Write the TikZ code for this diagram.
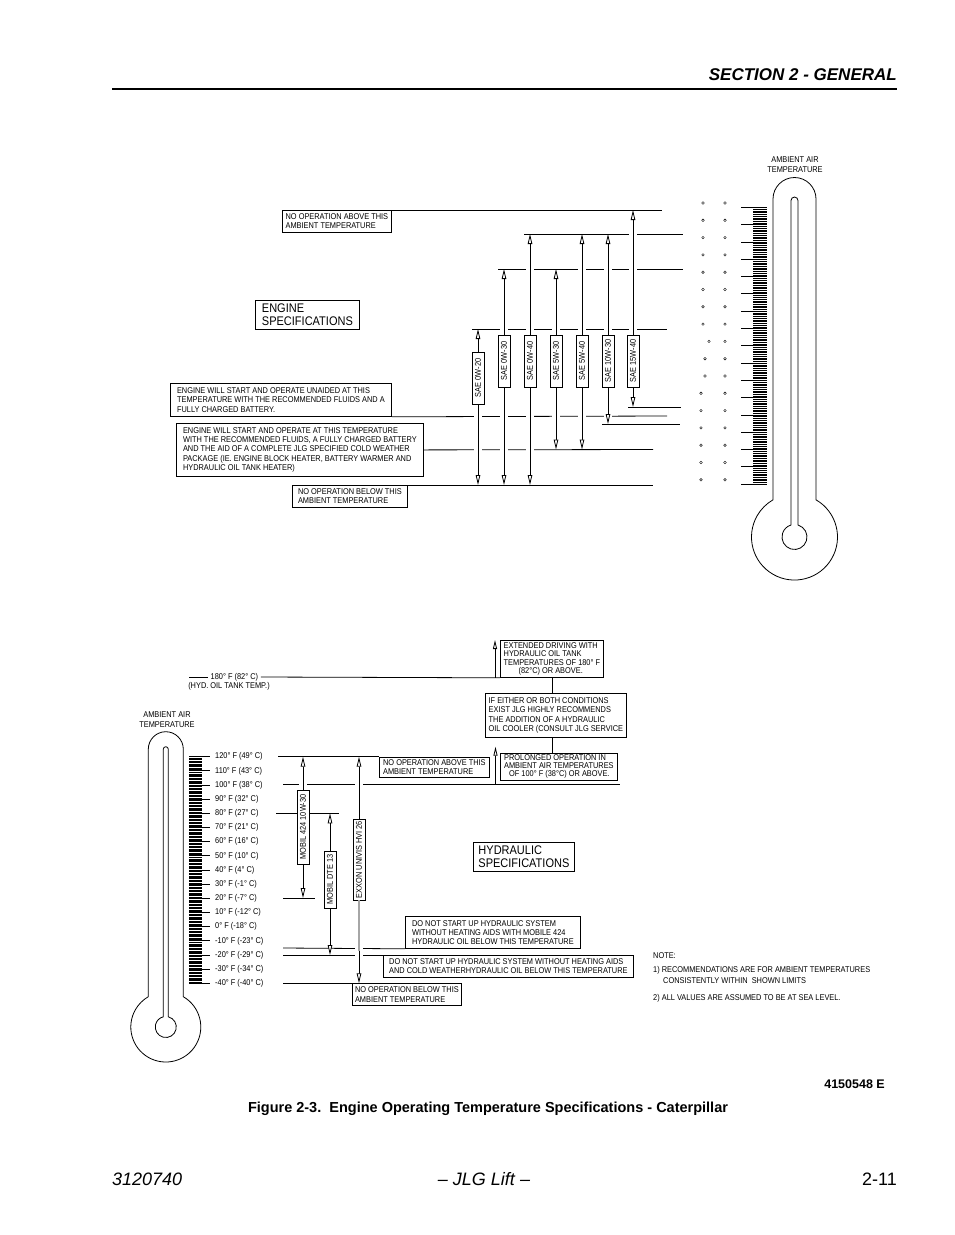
\documentclass[tikz,border=0pt]{standalone}
\usepackage{fontspec}
\setmainfont{Liberation Sans}
\newfontfamily\cond[FakeStretch=0.88]{Liberation Sans}
\usetikzlibrary{arrows.meta}
\newcommand\smalltxt{\cond\fontsize{8.4}{9.3}\selectfont}
\newcommand\tighttxt{\cond\fontsize{8.4}{8.4}\selectfont}
\newcommand\bigtxt{\cond\fontsize{12.5}{13}\selectfont}
\tikzset{
  lvl/.style={line width=0.8pt},
  tick/.style={line width=0.3pt},
  gapline/.style={draw=white, line width=8pt},
  limit/.style={line width=0.8pt, {Triangle[open, fill=white, length=10pt, width=4.5pt]}-{Triangle[open, fill=white, length=10pt, width=4.5pt]}},
  uparrow/.style={line width=0.8pt, -{Triangle[open, fill=white, length=9pt, width=4pt]}},
  notebox/.style={draw, fill=white, line width=0.8pt, font=\smalltxt, align=left, inner xsep=2.5pt, inner ysep=1pt, anchor=north west},
  oilbox/.style={draw, fill=white, line width=0.8pt, rotate=90, font=\smalltxt, inner sep=1pt, minimum height=12pt},
  specbox/.style={draw, line width=0.8pt, font=\bigtxt, align=left, anchor=north west, inner xsep=3pt},
  txt/.style={font=\smalltxt, inner sep=0pt},
}
\begin{document}
\begin{tikzpicture}[x=1pt, y=-1pt]
\useasboundingbox (0,0) rectangle (954,1235);

% page header
\node[anchor=base east, inner sep=0pt, font=\bfseries\itshape\fontsize{17}{20}\selectfont] (section) at (897,80) {SECTION 2 - GENERAL};
\draw[line width=1.5pt] (112,89) -- (897,89);

% engine thermometer
\node[txt, align=center] (eamb) at (795,164.5) {AMBIENT AIR\\TEMPERATURE};
\draw[line width=0.8pt] (773,499.8) -- (773,199) arc[start angle=180, end angle=0, radius=21.5pt] -- (816,499.8) arc[start angle=60, end angle=-240, radius=43pt] -- cycle;
\draw[line width=0.8pt] (791,525) -- (791,200.5) arc[start angle=180, end angle=0, radius=3.5pt] -- (798,525) arc[start angle=73.7, end angle=-253.7, radius=12.5pt] -- cycle;
\foreach \k in {0,...,16}
  \draw[lvl] (741,{207.3+17.3*\k}) -- (767,{207.3+17.3*\k});
\foreach \k in {0,...,15}
  \foreach \j in {1,...,9}
    \draw[tick] (753,{207.3+17.3*\k+1.73*\j}) -- (767,{207.3+17.3*\k+1.73*\j});
\foreach \k/\xl in {0/703,1/703,2/703,3/703,4/703,5/703,6/703,7/703,8/709,9/705,10/705,11/701,12/701,13/701,14/701,15/701,16/701}{
  \draw[line width=0.4pt] (\xl,{203+17.3*\k}) circle[radius=1.3pt];
  \draw[line width=0.4pt] (725,{203+17.3*\k}) circle[radius=1.3pt];
}

% engine boxes
\node[notebox, minimum width=109pt, minimum height=22pt] (noabove) at (282,210) {NO OPERATION ABOVE THIS\\AMBIENT TEMPERATURE};
\node[specbox, minimum width=104pt, minimum height=28pt] (enginespec) at (255,300) {ENGINE\\SPECIFICATIONS};
\node[notebox, minimum width=221pt, minimum height=33pt] (unaided) at (170,383) {ENGINE WILL START AND OPERATE UNAIDED AT THIS\\TEMPERATURE WITH THE RECOMMENDED FLUIDS AND A\\FULLY CHARGED BATTERY.};
\node[notebox, minimum width=247pt, minimum height=53pt] (aided) at (176,423) {ENGINE WILL START AND OPERATE AT THIS TEMPERATURE\\WITH THE RECOMMENDED FLUIDS, A FULLY CHARGED BATTERY\\AND THE AID OF A COMPLETE JLG SPECIFIED COLD WEATHER\\PACKAGE (IE. ENGINE BLOCK HEATER, BATTERY WARMER AND\\HYDRAULIC OIL TANK HEATER)};
\node[notebox, minimum width=115pt, minimum height=22pt] (nobelow) at (292,485) {NO OPERATION BELOW THIS\\AMBIENT TEMPERATURE};

% engine levels
\draw[lvl] (noabove.north east) -- (662,210);
\draw[lvl] (524,234) -- (683,234);
\draw[lvl] (498,269) -- (683,269);
\draw[lvl] (472,329) -- (667,329);
\draw[lvl] (628,407) -- (681,407);
\draw[lvl] (unaided.south east) -- (667,416);
\draw[lvl] (602,424) -- (680,424);
\draw[lvl] (aided.east) -- (653,449.5);
\draw[lvl] (nobelow.north east) -- (653,485);

% engine oil ranges
\draw[gapline] (478,341) -- (478,473);
\draw[gapline] (504,281) -- (504,473);
\draw[gapline] (530,246) -- (530,473);
\draw[gapline] (556,281) -- (556,437.5);
\draw[gapline] (582,246) -- (582,437.5);
\draw[gapline] (608,246) -- (608,417);
\draw[gapline] (633,222) -- (633,395);
\draw[limit] (478,329) -- (478,485);
\draw[limit] (504,269) -- (504,485);
\draw[limit] (530,234) -- (530,485);
\draw[limit] (556,269) -- (556,449.5);
\draw[limit] (582,234) -- (582,449.5);
\draw[limit] (608,234) -- (608,424);
\draw[limit] (633,210) -- (633,407);
\node[oilbox, minimum width=52pt] (sae0w20) at (478,378) {SAE 0W-20};
\node[oilbox, minimum width=52pt] (sae0w30) at (504,361) {SAE 0W-30};
\node[oilbox, minimum width=52pt] (sae0w40) at (530,361) {SAE 0W-40};
\node[oilbox, minimum width=52pt] (sae5w30) at (556,361) {SAE 5W-30};
\node[oilbox, minimum width=52pt] (sae5w40) at (582,361) {SAE 5W-40};
\node[oilbox, minimum width=52pt] (sae10w30) at (608,361) {SAE 10W-30};
\node[oilbox, minimum width=52pt] (sae15w40) at (633,361) {SAE 15W-40};

% hydraulic thermometer
\node[txt, align=center] (hamb) at (167,719.5) {AMBIENT AIR\\TEMPERATURE};
\draw[line width=0.8pt] (148.3,996.7) -- (148.3,749.2) arc[start angle=180, end angle=0, radius=17.5pt] -- (183.3,996.7) arc[start angle=60, end angle=-240, radius=35pt] -- cycle;
\draw[line width=0.8pt] (163.3,1016.8) -- (163.3,749.2) arc[start angle=180, end angle=0, radius=2.5pt] -- (168.3,1016.8) arc[start angle=76.2, end angle=-256.2, radius=10.5pt] -- cycle;
\foreach \k in {0,...,15}
  \foreach \j in {1,...,9}
    \draw[tick] (189.3,{756.7+14.167*\k+1.4167*\j}) -- (201.7,{756.7+14.167*\k+1.4167*\j});
\foreach \f/\c [count=\i from 0] in {120/49,110/43,100/38,90/32,80/27,70/21,60/16,50/10,40/4,30/-1,20/-7,10/-12,0/-18,-10/-23,-20/-29,-30/-34,-40/-40}{
  \draw[lvl] (189.3,{756.7+14.167*\i}) -- (210,{756.7+14.167*\i});
  \node[txt, anchor=west] (temp\i) at (215,{756.7+14.167*\i}) {\f° F (\c° C)};
}

% hydraulic boxes
\node[notebox, font=\tighttxt, minimum width=103pt, minimum height=37pt] (extended) at (500,640) {EXTENDED DRIVING WITH\\HYDRAULIC OIL TANK\\TEMPERATURES OF 180° F\\\hspace*{15pt}(82°C) OR ABOVE.};
\node[notebox, minimum width=141pt, minimum height=44pt] (either) at (485,693) {IF EITHER OR BOTH CONDITIONS\\EXIST JLG HIGHLY RECOMMENDS\\THE ADDITION OF A HYDRAULIC\\OIL COOLER (CONSULT JLG SERVICE};
\node[notebox, font=\tighttxt, minimum width=117pt, minimum height=27pt] (prolonged) at (500,752.5) {PROLONGED OPERATION IN\\AMBIENT AIR TEMPERATURES\\\hspace*{5pt}OF 100° F (38°C) OR ABOVE.};
\node[notebox, minimum width=110pt, minimum height=20.5pt] (hnoabove) at (379,756.7) {NO OPERATION ABOVE THIS\\AMBIENT TEMPERATURE};
\node[specbox, minimum width=101pt, minimum height=29pt] (hydspec) at (473,842) {HYDRAULIC\\SPECIFICATIONS};
\node[notebox, minimum width=175pt, minimum height=32pt] (dns1) at (405,916) {DO NOT START UP HYDRAULIC SYSTEM\\WITHOUT HEATING AIDS WITH MOBILE 424\\HYDRAULIC OIL BELOW THIS TEMPERATURE};
\node[notebox, minimum width=250pt, minimum height=22pt] (dns2) at (383,955) {DO NOT START UP HYDRAULIC SYSTEM WITHOUT HEATING AIDS\\AND COLD WEATHERHYDRAULIC OIL BELOW THIS TEMPERATURE};
\node[notebox, minimum width=109pt, minimum height=22pt] (hnobelow) at (352,983.3) {NO OPERATION BELOW THIS\\AMBIENT TEMPERATURE};

% hydraulic levels
\node[txt, anchor=west, inner xsep=2.5pt] (tank) at (208,677) {180° F (82° C)};
\node[txt] (tankcap) at (229,686) {(HYD. OIL TANK TEMP.)};
\draw[lvl] (189,677) -- (tank.west);
\draw[lvl] (tank.east) -- (extended.south west);
\draw[uparrow] ([xshift=-5pt]extended.south west) -- ([xshift=-5pt]extended.north west);
\draw[lvl] (extended.south) -- (extended.south |- either.north);
\draw[lvl] (either.south -| extended.south) -- (prolonged.north -| extended.south);
\draw[lvl] (278,756.7) -- (hnoabove.north west);
\draw[lvl] (283,784) -- (620,784);
\draw[uparrow] (495.5,784) -- (495.5,746.7);
\draw[lvl] (276,813.3) -- (339,813.3);
\draw[lvl] (283,898) -- (315,898);
\draw[lvl] (283,948) -- (dns1.south west);
\draw[lvl] (283,955) -- (dns2.north west);
\draw[lvl] (283,983.3) -- (hnobelow.north west);

% hydraulic oil ranges
\draw[gapline] (303,768.7) -- (303,886);
\draw[gapline] (330,825) -- (330,943);
\draw[gapline] (359,768.7) -- (359,971);
\draw[limit] (303,756.7) -- (303,898);
\draw[limit] (330,813.3) -- (330,955);
\draw[limit] (359,756.7) -- (359,983.3);
\node[oilbox, minimum width=74pt] (mobil424) at (303,827) {MOBIL 424 10W-30};
\node[oilbox, minimum width=57pt] (dte13) at (330,879.5) {MOBIL DTE 13};
\node[oilbox, minimum width=81pt] (univis) at (359,859.5) {EXXON UNIVIS HVI 26};
\draw[line width=1.4pt, black!35] (univis.west) -- (359,951);

% notes
\node[txt, anchor=west] (note0) at (653,956) {NOTE:};
\node[txt, anchor=west] (note1) at (653,970) {1) RECOMMENDATIONS ARE FOR AMBIENT TEMPERATURES};
\node[txt, anchor=west] (note1b) at (663,981) {CONSISTENTLY WITHIN\ \ SHOWN LIMITS};
\node[txt, anchor=west] (note2) at (653,998) {2) ALL VALUES ARE ASSUMED TO BE AT SEA LEVEL.};

% caption and footer
\node[anchor=base east, inner sep=0pt, font=\bfseries\fontsize{12.5}{14}\selectfont] (drawno) at (885,1088) {4150548 E};
\node[anchor=base, inner sep=0pt, font=\bfseries\fontsize{14.5}{17}\selectfont] (caption) at (488,1112) {Figure 2-3.\ \ Engine Operating Temperature Specifications - Caterpillar};
\node[anchor=base west, inner sep=0pt, font=\itshape\fontsize{18}{20}\selectfont] (docno) at (112,1185) {3120740};
\node[anchor=base, inner sep=0pt, font=\itshape\fontsize{18}{20}\selectfont] (brand) at (484,1185) {– JLG Lift –};
\node[anchor=base east, inner sep=0pt, font=\fontsize{18}{20}\selectfont] (pageno) at (897,1185) {2-11};
\end{tikzpicture}
\end{document}
